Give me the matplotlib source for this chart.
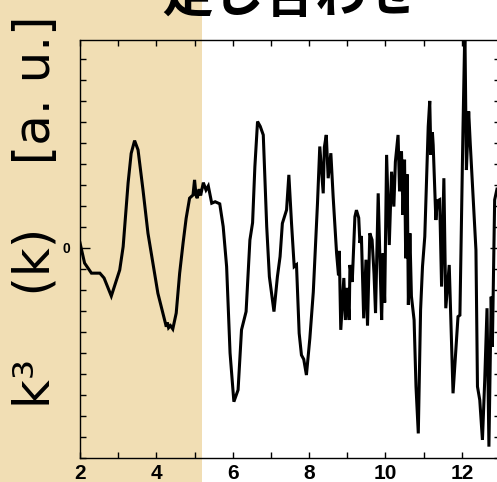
import matplotlib
matplotlib.use("Agg")
import matplotlib.pyplot as plt
from matplotlib.patches import Rectangle

# k^3 chi(k) sum spectrum (arbitrary units)
k = [2.00, 2.12, 2.30, 2.52, 2.63, 2.82, 3.04, 3.13, 3.26, 3.34, 3.43, 3.52,
     3.65, 3.78, 3.91, 4.04, 4.17, 4.26, 4.29, 4.32, 4.37, 4.43, 4.52, 4.61,
     4.70, 4.78, 4.87, 4.96, 5.00, 5.04, 5.07, 5.12, 5.16, 5.23, 5.30, 5.36,
     5.45, 5.54, 5.66, 5.75, 5.84, 5.93, 6.03, 6.14, 6.23, 6.35, 6.45, 6.52,
     6.58, 6.65, 6.72, 6.80, 6.89, 6.96, 7.08, 7.17, 7.24, 7.30, 7.41, 7.47,
     7.54, 7.61, 7.67, 7.74, 7.80, 7.86, 7.93, 8.02, 8.11, 8.22, 8.28, 8.37,
     8.40, 8.45, 8.50, 8.57, 8.63, 8.72, 8.77, 8.79, 8.83, 8.91, 8.95, 9.00,
     9.05, 9.07, 9.13, 9.20, 9.24, 9.30, 9.33, 9.37, 9.43, 9.49, 9.53, 9.59,
     9.65, 9.70, 9.74, 9.81, 9.86, 9.90, 9.94, 9.98, 10.03, 10.10, 10.16,
     10.22, 10.26, 10.33, 10.37, 10.42, 10.46, 10.50, 10.53, 10.57, 10.60,
     10.64, 10.68, 10.75, 10.80, 10.86, 10.92, 10.97, 11.03, 11.12, 11.16,
     11.19, 11.23, 11.25, 11.32, 11.36, 11.42, 11.47, 11.53, 11.58, 11.67,
     11.77, 11.90, 11.95, 12.03, 12.08, 12.12, 12.18, 12.22, 12.37, 12.41,
     12.47, 12.54, 12.60, 12.66, 12.71, 12.77, 12.80, 12.86, 12.92]
chi = [0.24, -0.72, -1.20, -1.20, -1.43, -2.29, -1.05, 0.06, 3.10, 4.50, 5.11, 4.67,
       2.76, 0.70, -0.73, -2.16, -3.10, -3.75, -3.55, -3.80, -3.70, -3.86, -3.10, -1.20,
       0.24, 1.41, 2.37, 2.52, 3.24, 2.50, 2.37, 2.80, 2.50, 3.11, 2.76, 2.95,
       2.13, 2.20, 2.10, 1.02, -0.89, -5.00, -7.32, -6.76, -3.90, -3.03, 0.38, 1.20,
       3.87, 6.02, 5.79, 5.38, 1.02, -1.37, -3.03, -1.37, -0.41, 1.17, 1.81, 3.48,
       1.17, -0.89, -0.80, -4.06, -5.10, -5.30, -6.05, -4.30, -2.10, 2.13, 4.83, 2.60,
       4.80, 5.38, 3.32, 4.51, 2.44, -0.25, -1.30, -0.14, -3.90, -1.43, -3.43, -1.90,
       -3.43, -0.81, -1.62, 1.49, 1.80, 1.43, 0.24, 0.57, -3.35, -0.56, -3.70, 0.70,
       0.38, -1.21, -3.10, 2.60, -0.89, -3.43, -0.25, -2.60, 4.43, 0.14, 3.63,
       1.97, 4.10, 5.38, 2.70, 4.59, 1.57, 4.20, -0.49, 3.50, -2.71,
       0.70, -2.30, -3.43, -6.60, -8.83, -2.95, -0.89, 0.54, 5.78, 7.00,
       4.43, 5.50, 4.90, 1.33, 2.24, 2.30, -1.84, 3.32, -2.87, -0.81,
       -6.92, -3.27, -3.20, 5.62, 10.50, 3.71, 6.50, 5.00, -0.10, -6.60,
       -7.24, -9.14, -6.30, -2.87, -9.46, -2.32, -4.70, 2.29, 2.80]

x_ticks = [2, 4, 6, 8, 10, 12]
shade_end = 5.2
title = "足し合わせ"
ylabel = "k³    (k)    [a. u.]"

fig = plt.figure(figsize=(4.97, 4.82), dpi=100)
fig.patch.set_facecolor("white")

ax = fig.add_axes([80 / 497, 24 / 482, 420 / 497, 418 / 482])
ax.set_facecolor("none")
ax.plot(k, chi, color="black", lw=2.2, solid_joinstyle="miter")
ax.set_xlim(2, 13)
ax.set_ylim(-10, 9.9)

# tan panel behind the low-k part of the spectrum
x_end = ax.transData.transform((shade_end, 0))[0] / fig.bbox.width
fig.patches.append(Rectangle((0, 0), x_end, 1, transform=fig.transFigure,
                             facecolor="#F1DEB4", edgecolor="none", zorder=-10))

ax.set_xticks(x_ticks)
ax.set_xticks(range(3, 13, 2), minor=True)
ax.set_yticks([0])
ax.set_yticks([v for v in range(-10, 10) if v != 0], minor=True)
ax.tick_params(which="both", direction="in", top=True, right=True,
               color="black", width=1.0)
ax.tick_params(axis="x", which="both", length=4.5)
ax.tick_params(axis="y", which="major", length=7.5, pad=7)
ax.tick_params(axis="y", which="minor", length=4.5)
ax.tick_params(axis="x", which="major", pad=4)
for lab in ax.get_xticklabels():
    lab.set_fontfamily("Liberation Sans")
    lab.set_fontweight("bold")
    lab.set_fontsize(15)
for lab in ax.get_yticklabels():
    lab.set_fontfamily("Liberation Sans")
    lab.set_fontweight("bold")
    lab.set_fontsize(10)
for sp in ax.spines.values():
    sp.set_linewidth(1.0)
    sp.set_color("black")

fig.text(36 / 497, 1 - 212 / 482, ylabel, rotation=90, ha="center", va="center",
         fontsize=36, family="DejaVu Sans")
fig.text(290 / 497, 1 - 12 / 482, title, ha="center", va="baseline",
         fontsize=37, fontweight="bold", family=["Noto Sans CJK JP", "DejaVu Sans"])

fig.savefig("out.png", dpi=100)
